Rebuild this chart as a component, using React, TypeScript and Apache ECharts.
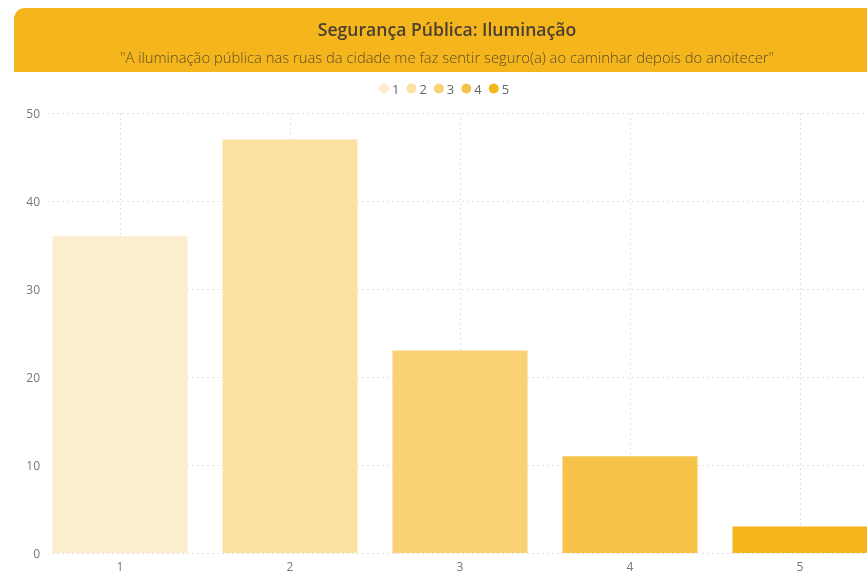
import React, { useEffect, useRef } from "react";
import * as echarts from "echarts";

const categories = ["1", "2", "3", "4", "5"];
const values = [36, 47, 23, 11, 3];
const colors = ["#FDEDCF", "#FBE1A2", "#F8D275", "#F6C348", "#F4B51D"];
const titleText = "Segurança Pública: Iluminação";
const subtitleText =
  '"A iluminação pública nas ruas da cidade me faz sentir seguro(a) ao caminhar depois do anoitecer"';

export default function App() {
  const ref = useRef<HTMLDivElement>(null);
  useEffect(() => {
    if (!ref.current) return;
    const chart = echarts.init(ref.current, undefined, { renderer: "svg" });
    const font = "'Open Sans', 'Noto Sans', sans-serif";
    chart.setOption({
      animation: false,
      textStyle: { fontFamily: font },
      graphic: [
        {
          type: "rect",
          shape: { x: 14, y: 8, width: 900, height: 64, r: [11, 11, 0, 0] },
          style: { fill: "#F4B51D" },
          z: 0,
        },
        {
          type: "text",
          x: 447,
          y: 29,
          style: {
            text: titleText,
            fill: "#4a4030",
            font: `600 17.6px ${font}`,
            align: "center",
            verticalAlign: "middle",
          },
          z: 1,
        },
        {
          type: "text",
          x: 447,
          y: 57,
          style: {
            text: subtitleText,
            fill: "#5e4d2a",
            font: `300 14.8px ${font}`,
            align: "center",
            verticalAlign: "middle",
          },
          z: 1,
        },
      ],
      legend: {
        top: 77,
        left: 374,
        icon: "circle",
        itemWidth: 10,
        itemHeight: 10,
        itemGap: 7,
        textStyle: { color: "#666", fontSize: 13, padding: [0, 0, 0, -2] },
        data: categories,
      },
      grid: { left: 47, right: 0, top: 113, bottom: 24 },
      xAxis: {
        type: "value",
        min: 1 - 73 / 170,
        max: 1 + (867 - 47 - 73) / 170,
        minInterval: 1,
        maxInterval: 1,
        axisLine: { show: false },
        axisTick: { show: false },
        axisLabel: {
          color: "#777",
          fontSize: 12,
          margin: 7,
          showMinLabel: false,
          showMaxLabel: false,
          formatter: (v: number) =>
            Math.abs(v - Math.round(v)) < 1e-6 ? String(Math.round(v)) : "",
        },
        splitLine: {
          show: true,
          showMinLine: false,
          showMaxLine: false,
          lineStyle: { color: "#e2e2e2", type: [2, 3], width: 1 },
        },
      },
      yAxis: {
        type: "value",
        min: 0,
        max: 50,
        interval: 10,
        axisLine: { show: false },
        axisTick: { show: false },
        axisLabel: { color: "#777", fontSize: 12, margin: 7 },
        splitLine: {
          show: true,
          lineStyle: { color: "#e2e2e2", type: [2, 3], width: 1 },
        },
      },
      series: categories.map((c, i) => ({
        name: c,
        type: "bar",
        barWidth: 135,
        barGap: "-100%",
        data: [[i + 1, values[i]]],
        itemStyle: { color: colors[i] },
      })),
    });
    return () => chart.dispose();
  }, []);
  return (
    <div
      ref={ref}
      style={{ position: "fixed", left: 0, top: 0, width: 867, height: 577 }}
    />
  );
}
